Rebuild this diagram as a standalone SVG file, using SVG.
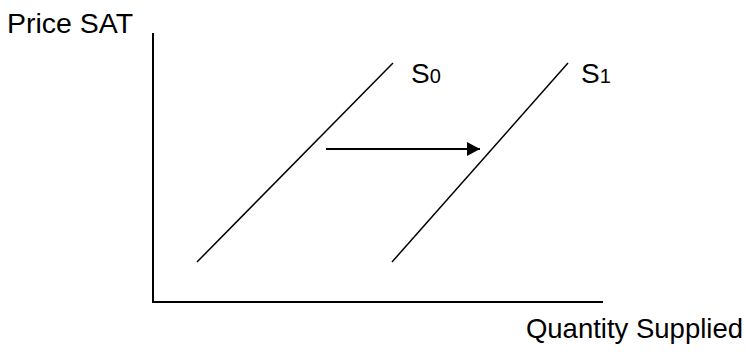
<svg xmlns="http://www.w3.org/2000/svg" width="746" height="354" viewBox="0 0 746 354">
<style>
.t{font-family:"Liberation Sans",Arial,sans-serif;fill:#000}
.ax{stroke:#000;stroke-width:2;fill:none}
.cv{stroke:#000;stroke-width:1.5;fill:none}
</style>
<defs>
<marker id="ah" viewBox="0 0 13 14" refX="13" refY="7" markerWidth="13" markerHeight="14" markerUnits="userSpaceOnUse" orient="auto">
<path d="M0,0 L13,7 L0,14 Z" fill="#000"/>
</marker>
</defs>
<rect width="746" height="354" fill="#fff"/>
<g id="axes">
<path class="ax" d="M153,33 L153,302 L603,302"/>
<text class="t" x="7" y="33" font-size="28.5">Price SAT</text>
<text class="t" x="743" y="338" font-size="27.5" text-anchor="end">Quantity Supplied</text>
</g>
<g id="S0">
<line class="cv" x1="197" y1="262" x2="393" y2="63"/>
<text class="t" x="411" y="83" font-size="28">S<tspan font-size="20">0</tspan></text>
</g>
<g id="S1">
<line class="cv" x1="392" y1="262" x2="568" y2="63"/>
<text class="t" x="581" y="83" font-size="28">S<tspan font-size="20">1</tspan></text>
</g>
<g id="connectors">
<line x1="326" y1="149" x2="480" y2="149" stroke="#000" stroke-width="2" marker-end="url(#ah)"/>
</g>
</svg>
